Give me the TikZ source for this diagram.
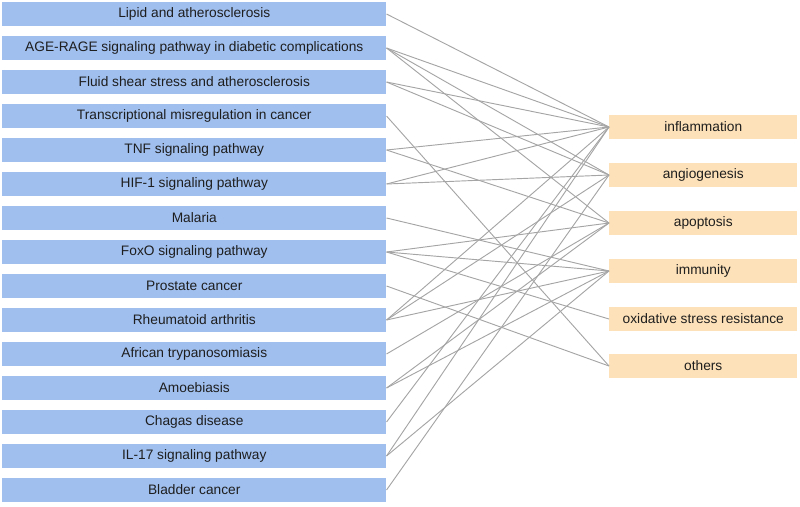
\documentclass[tikz,border=0pt]{standalone}
\usepackage{fontspec}
\setmainfont{Liberation Sans}
\definecolor{lbox}{RGB}{160,191,238}
\definecolor{rbox}{RGB}{253,225,184}
\definecolor{conn}{RGB}{165,165,165}
\definecolor{txt}{RGB}{30,30,30}
\begin{document}
\begin{tikzpicture}[x=0.75pt,y=-0.75pt,
  lnode/.style={fill=lbox,draw=none,anchor=west,minimum width=288pt,minimum height=18pt,inner sep=0pt,text=txt,font=\fontsize{10.3}{12}\selectfont},
  rnode/.style={fill=rbox,draw=none,anchor=west,minimum width=141pt,minimum height=18pt,inner sep=0pt,text=txt,font=\fontsize{10.3}{12}\selectfont},
  link/.style={draw=conn,line width=0.7pt}]
\useasboundingbox (0,0) rectangle (800,507);
\node[lnode] (L1) at (2,14) {Lipid and atherosclerosis};
\node[lnode] (L2) at (2,48) {AGE-RAGE signaling pathway in diabetic complications};
\node[lnode] (L3) at (2,82) {Fluid shear stress and atherosclerosis};
\node[lnode] (L4) at (2,116) {Transcriptional misregulation in cancer};
\node[lnode] (L5) at (2,150) {TNF signaling pathway};
\node[lnode] (L6) at (2,184) {HIF-1 signaling pathway};
\node[lnode] (L7) at (2,218) {Malaria};
\node[lnode] (L8) at (2,252) {FoxO signaling pathway};
\node[lnode] (L9) at (2,286) {Prostate cancer};
\node[lnode] (L10) at (2,320) {Rheumatoid arthritis};
\node[lnode] (L11) at (2,354) {African trypanosomiasis};
\node[lnode] (L12) at (2,388) {Amoebiasis};
\node[lnode] (L13) at (2,422) {Chagas disease};
\node[lnode] (L14) at (2,456) {IL-17 signaling pathway};
\node[lnode] (L15) at (2,490) {Bladder cancer};
\node[rnode] (R1) at (609,127) {inflammation};
\node[rnode] (R2) at (609,175) {angiogenesis};
\node[rnode] (R3) at (609,223) {apoptosis};
\node[rnode] (R4) at (609,271) {immunity};
\node[rnode] (R5) at (609,319) {oxidative stress resistance};
\node[rnode] (R6) at (609,366) {others};
\foreach \a/\b in {1/1,2/1,2/2,2/3,3/1,3/2,4/6,5/1,5/3,6/1,6/2,7/4,8/3,8/4,8/5,9/6,10/1,10/2,10/4,11/3,12/3,12/4,13/1,14/1,14/4,15/2}
  \draw[link] (L\a.east) -- (R\b.west);
\end{tikzpicture}
\end{document}
